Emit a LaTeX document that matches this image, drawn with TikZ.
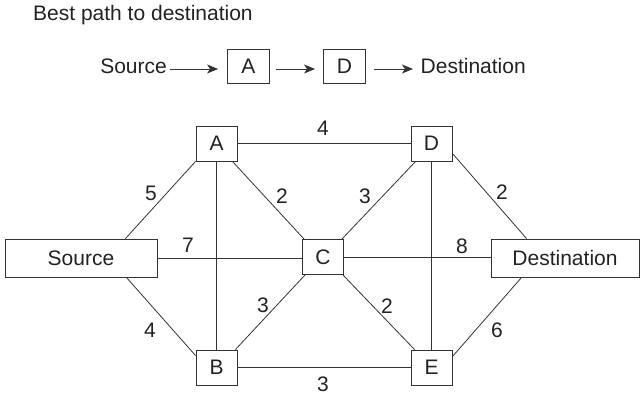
\documentclass[tikz,border=0pt]{standalone}
\usepackage{fontspec}
\setmainfont{Liberation Sans}
\usetikzlibrary{arrows.meta}
\definecolor{ink}{HTML}{222222}
\definecolor{edge}{HTML}{333333}
\begin{document}
\begin{tikzpicture}[x=1pt,y=-1pt,
  every node/.style={font=\fontsize{21}{25}\selectfont, text=ink},
  router/.style={draw=edge, line width=0.9pt, minimum width=41pt, minimum height=35pt, inner sep=0pt},
  endbox/.style={draw=edge, line width=0.9pt, minimum height=38pt, inner sep=0pt},
  link/.style={draw=edge, line width=0.8pt},
  arr/.style={draw=edge, line width=0.9pt, -{Stealth[length=11pt,width=9pt,inset=3pt]}},
  cost/.style={inner sep=0pt}]
\useasboundingbox (0,0) rectangle (642,395);
% title
\node[anchor=base west, inner sep=0pt] (title) at (33,20.5) {Best path to destination};
% best path row
\node[anchor=base east, inner sep=0pt] (psrc) at (167,73.5) {Source};
\node[router, minimum width=42pt, minimum height=34pt] (pa) at (248.5,66.3) {A};
\node[router, minimum width=42pt, minimum height=34pt] (pd) at (344.5,66.3) {D};
\node[anchor=base west, inner sep=0pt] (pdst) at (420.5,74) {Destination};
\coordinate (s1) at (170,69);
\coordinate (e3) at (413,69);
\draw[arr] (s1) -- ([xshift=-9pt]pa.west |- s1);
\draw[arr] ([xshift=6pt]pa.east |- s1) -- ([xshift=-8pt]pd.west |- s1);
\draw[arr] ([xshift=8pt]pd.east |- s1) -- (e3);
% network
\node[router] (A) at (216.5,143.5) {A};
\node[router] (D) at (431.5,143.5) {D};
\node[router] (B) at (216.5,367.5) {B};
\node[router] (E) at (431.5,367.5) {E};
\node[router] (C) at (323,257) {C};
\node[endbox, minimum width=152pt] (S) at (81,258) {Source};
\node[endbox, minimum width=148pt] (T) at (565,258) {Destination};
% links
\draw[link] (A.east) -- (D.west);
\draw[link] (B.east) -- (E.west);
\draw[link] (A.south) -- (B.north);
\draw[link] (D.south) -- (E.north);
\draw[link] (S.east) -- (S.east -| C.west);
\draw[link] (C.east) -- (C.east -| T.west);
\draw[link] ([xshift=-32pt]S.north east) -- (A.south west);
\draw[link] ([xshift=-31pt]S.south east) -- ([yshift=-6pt]B.north west);
\draw[link] ([xshift=-5pt]A.south east) -- ([xshift=2pt]C.north west);
\draw[link] ([xshift=-2pt]C.north east) -- ([xshift=5pt]D.south west);
\draw[link] ([xshift=3pt]C.south west) -- ([xshift=-2pt]B.north east);
\draw[link] ([xshift=-1pt]C.south east) -- ([xshift=4pt]E.north west);
\draw[link] ([yshift=8pt]D.south east) -- ([xshift=36pt]T.north west);
\draw[link] ([yshift=-7pt]E.north east) -- ([xshift=31pt]T.south west);
% costs
\node[cost] (cAD) at (323,128) {4};
\node[cost] (cSA) at (151,193) {5};
\node[cost] (cAC) at (282,196) {2};
\node[cost] (cSC) at (188,245) {7};
\node[cost] (cCD) at (365,196) {3};
\node[cost] (cDT) at (502,192) {2};
\node[cost] (cCT) at (462,246) {8};
\node[cost] (cSB) at (150,330) {4};
\node[cost] (cCB) at (263,305) {3};
\node[cost] (cBE) at (323,384) {3};
\node[cost] (cCE) at (387,306) {2};
\node[cost] (cET) at (497,330) {6};
\end{tikzpicture}
\end{document}
